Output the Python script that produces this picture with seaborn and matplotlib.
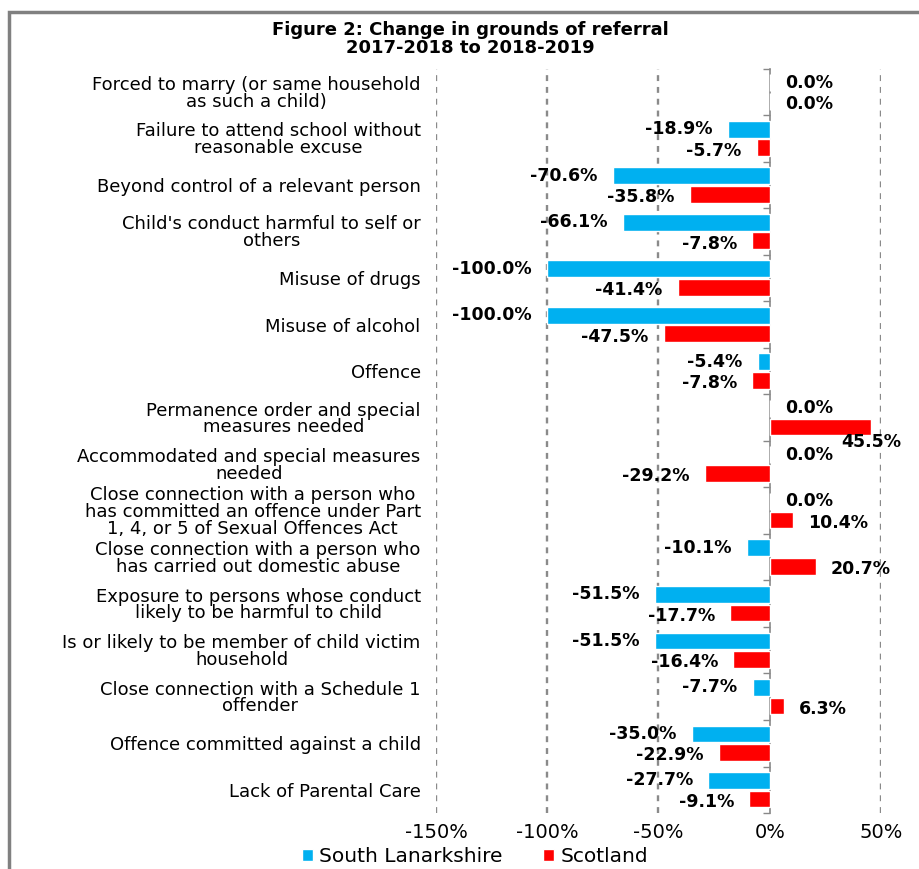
import pandas as pd
import matplotlib
matplotlib.use("Agg")
import matplotlib.pyplot as plt
from matplotlib.patches import Rectangle
import seaborn as sns

# grounds of referral, top to bottom as shown
grounds = [
    "Forced to marry (or same household\nas such a child)",
    "Failure to attend school without\nreasonable excuse",
    "Beyond control of a relevant person",
    "Child's conduct harmful to self or\nothers",
    "Misuse of drugs",
    "Misuse of alcohol",
    "Offence",
    "Permanence order and special\nmeasures needed",
    "Accommodated and special measures\nneeded",
    "Close connection with a person who\nhas committed an offence under Part\n1, 4, or 5 of Sexual Offences Act",
    "Close connection with a person who\nhas carried out domestic abuse",
    "Exposure to persons whose conduct\nlikely to be harmful to child",
    "Is or likely to be member of child victim\nhousehold",
    "Close connection with a Schedule 1\noffender",
    "Offence committed against a child",
    "Lack of Parental Care",
]
south_lanarkshire = [0.0, -18.9, -70.6, -66.1, -100.0, -100.0, -5.4, 0.0,
                     0.0, 0.0, -10.1, -51.5, -51.5, -7.7, -35.0, -27.7]
scotland = [0.0, -5.7, -35.8, -7.8, -41.4, -47.5, -7.8, 45.5,
            -29.2, 10.4, 20.7, -17.7, -16.4, 6.3, -22.9, -9.1]
areas = ["South Lanarkshire", "Scotland"]
x_ticks = [-150, -100, -50, 0, 50]

df = pd.DataFrame({
    "ground": grounds * 2,
    "change": south_lanarkshire + scotland,
    "area": [areas[0]] * len(grounds) + [areas[1]] * len(grounds),
})

sns.set_style("white")
plt.rcParams["font.family"] = ["DejaVu Sans"]
plt.rcParams["text.color"] = "black"

fig = plt.figure(figsize=(9.19, 8.69), dpi=100)
ax = fig.add_axes([0.4744, 0.0644, 0.4842, 0.8566])

sns.barplot(data=df, y="ground", x="change", hue="area", orient="h",
            palette=["#00B0F0", "#FF0000"], width=0.8, gap=0.1,
            saturation=1, ax=ax, legend=True)

ax.set_xlim(-150, 50)
ax.set_xticks(x_ticks)
ax.set_xticklabels([f"{t}%" for t in x_ticks], fontsize=14)
ax.set_xlabel("")
ax.set_ylabel("")
for s in ax.spines.values():
    s.set_visible(False)

ax.tick_params(axis="y", length=0, pad=11, labelsize=13, labelcolor="black")
for lab in ax.get_yticklabels():
    lab.set_multialignment("center")
    lab.set_linespacing(0.9)
ax.tick_params(axis="x", length=4, color="#808080", pad=3, labelcolor="black")

# dashed gridlines
for t in x_ticks:
    if t != 0:
        ax.axvline(t, color="#8a8a8a", lw=1.7, ls=(0, (2.5, 2.5)), zorder=0)

# category axis at zero
sec = ax.secondary_yaxis(0.75)
sec.set_alignment("left")
sec.set_yticks([i + 0.5 for i in range(-1, len(grounds))])
sec.set_yticklabels([])
sec.tick_params(length=5, color="#888888", width=1)
for side in ("left", "right"):
    sec.spines[side].set_color("#888888")
    sec.spines[side].set_linewidth(1.2)
ax.set_ylim(len(grounds) - 0.5, -0.5)

# value labels
for k, cont in enumerate(ax.containers):
    dy = 0 if k == 0 else -2
    for bar, v in zip(cont.patches, cont.datavalues):
        yc = bar.get_y() + bar.get_height() / 2
        txt = f"{v:.1f}%"
        if v > 40:
            ax.annotate(txt, (v, yc), xytext=(0, -11), textcoords="offset points",
                        ha="center", va="center", fontsize=12.5, fontweight="bold")
        elif v < 0:
            ax.annotate(txt, (v, yc), xytext=(-11, dy), textcoords="offset points",
                        ha="right", va="center", fontsize=12.5, fontweight="bold")
        else:
            ax.annotate(txt, (v, yc), xytext=(11, dy), textcoords="offset points",
                        ha="left", va="center", fontsize=12.5, fontweight="bold")

handles, labels = ax.get_legend_handles_labels()
ax.legend_.remove()
fig.legend(handles, labels, loc="center", bbox_to_anchor=(0.517, 0.014), ncol=2,
           frameon=False, fontsize=14.5, handlelength=0.55, handleheight=0.55,
           handletextpad=0.3, columnspacing=2.0, labelcolor="black")

fig.text(0.512, 0.955, "Figure 2: Change in grounds of referral\n2017-2018 to 2018-2019",
         ha="center", va="center", fontsize=13, fontweight="bold", linespacing=1.0)

# outer frame
fig.patches.append(Rectangle((0.010, -0.05), 1.2, 1.036, transform=fig.transFigure,
                             fill=False, edgecolor="#808080", lw=2.5))

fig.savefig("out.png", dpi=100)
